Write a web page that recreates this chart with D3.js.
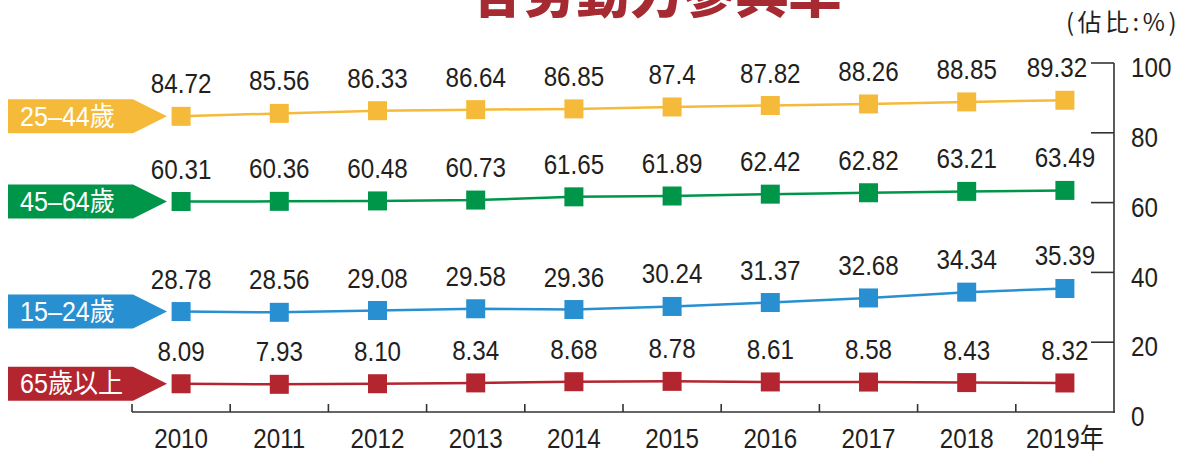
<!DOCTYPE html>
<html><head><meta charset="utf-8">
<script src="https://cdn.jsdelivr.net/npm/d3@7"></script>
<style>
html,body{margin:0;padding:0;background:#fff;}
svg{display:block;}
</style></head>
<body>
<svg id="chart" width="1179" height="459"></svg>
<script>
const years = ["2010","2011","2012","2013","2014","2015","2016","2017","2018","2019"];
const yearLabels = ["2010","2011","2012","2013","2014","2015","2016","2017","2018","2019年"];
const age25_44 = ["84.72","85.56","86.33","86.64","86.85","87.4","87.82","88.26","88.85","89.32"];
const age45_64 = ["60.31","60.36","60.48","60.73","61.65","61.89","62.42","62.82","63.21","63.49"];
const age15_24 = ["28.78","28.56","29.08","29.58","29.36","30.24","31.37","32.68","34.34","35.39"];
const age65up  = ["8.09","7.93","8.10","8.34","8.68","8.78","8.61","8.58","8.43","8.32"];
const seriesNames = ["25–44歲","45–64歲","15–24歲","65歲以上"];
const seriesColors = ["#f6ba3a","#00964a","#2890d0","#b3252f"];
const yTicks = [0,20,40,60,80,100];
const titleText = "各勞動力參與率";
const unitText = "(佔比:%)";

const seriesData = [age25_44, age45_64, age15_24, age65up];

const numFont = "'Liberation Sans',Arial,'Noto Sans CJK TC',sans-serif";
const SX = 0.88;
const svg = d3.select("#chart");

const x = d3.scaleBand().domain(years).range([132, 1114]);
const y = d3.scaleLinear().domain([0, 100]).range([412, 63]);
const cx = d => x(d) + x.bandwidth() / 2;

// title (cut off at top, as in the reference)
svg.append("text").attr("x", 656).attr("y", 13)
  .attr("text-anchor", "middle")
  .attr("font-family", "'Noto Sans CJK TC',sans-serif")
  .attr("font-weight", 900).attr("font-size", 53)
  .attr("fill", "#a62a31").text(titleText);

svg.append("text").attr("x", 1180).attr("y", 31)
  .attr("text-anchor", "end")
  .attr("font-family", "'Noto Sans CJK TC',sans-serif")
  .attr("font-size", 24).attr("letter-spacing", 3.5)
  .attr("fill", "#231f20").text(unitText);

// bottom axis
const xAxis = d3.axisBottom(x).tickSize(0).tickFormat((d, i) => yearLabels[i]);
const gx = svg.append("g").attr("transform", "translate(0,412)").call(xAxis);
gx.select(".domain").remove();
gx.selectAll("text").attr("font-family", numFont).attr("font-size", 27.5)
  .attr("fill", "#231f20").attr("dy", 0).attr("y", 36)
  .attr("transform", `scale(${SX},1)`);
svg.append("line").attr("x1", 132).attr("x2", 1115).attr("y1", 412).attr("y2", 412)
  .attr("stroke", "#333").attr("stroke-width", 1.6);
svg.selectAll(".xtick").data(years).enter().append("line")
  .attr("x1", d => x(d)).attr("x2", d => x(d))
  .attr("y1", 404).attr("y2", 412)
  .attr("stroke", "#333").attr("stroke-width", 1.6);

// right axis
const yAxis = d3.axisRight(y).tickValues(yTicks).tickSize(0);
const gy = svg.append("g").attr("transform", "translate(1114,0)").call(yAxis);
gy.select(".domain").remove();
gy.selectAll("text").attr("font-family", numFont).attr("font-size", 27.5)
  .attr("fill", "#231f20").attr("dy", "0.5em").attr("x", 17 / SX)
  .attr("transform", `scale(${SX},1)`);
svg.append("line").attr("x1", 1114).attr("x2", 1114).attr("y1", y(100)).attr("y2", 412.8)
  .attr("stroke", "#333").attr("stroke-width", 1.6);
svg.selectAll(".ytick").data(yTicks.filter(t => t > 0)).enter().append("line")
  .attr("x1", 1091).attr("x2", 1114)
  .attr("y1", d => y(d)).attr("y2", d => y(d))
  .attr("stroke", "#333").attr("stroke-width", 1.6);

// series
const line = d3.line().x((d, i) => cx(years[i])).y(d => y(+d));
seriesData.forEach((vals, s) => {
  const col = seriesColors[s];
  const g = svg.append("g");
  g.append("path").attr("d", line(vals)).attr("fill", "none")
    .attr("stroke", col).attr("stroke-width", 2.5);
  g.selectAll("rect").data(vals).enter().append("rect")
    .attr("x", (d, i) => cx(years[i]) - 9.5).attr("y", d => y(+d) - 9.5)
    .attr("width", 19).attr("height", 19).attr("fill", col);
  g.selectAll("text.v").data(vals).enter().append("text")
    .attr("transform", (d, i) =>
      `translate(${cx(years[i]) - (i === 9 && s === 0 ? 8 : 0)},${y(+d) - 23}) scale(${SX},1)`)
    .attr("text-anchor", "middle")
    .attr("font-family", numFont).attr("font-size", 27.5)
    .attr("fill", "#231f20").text(d => d);
  // tag
  const ty = y(+vals[0]);
  const h = 34;
  g.append("path")
    .attr("d", `M8,${ty - h/2} L133,${ty - h/2} L167,${ty} L133,${ty + h/2} L8,${ty + h/2} Z`)
    .attr("fill", col);
  g.append("text").attr("transform", `translate(20,${ty + 9.5}) scale(0.93,1)`)
    .attr("font-family", numFont).attr("font-size", 27)
    .attr("fill", "#fff").text(seriesNames[s]);
});
</script>
</body></html>
